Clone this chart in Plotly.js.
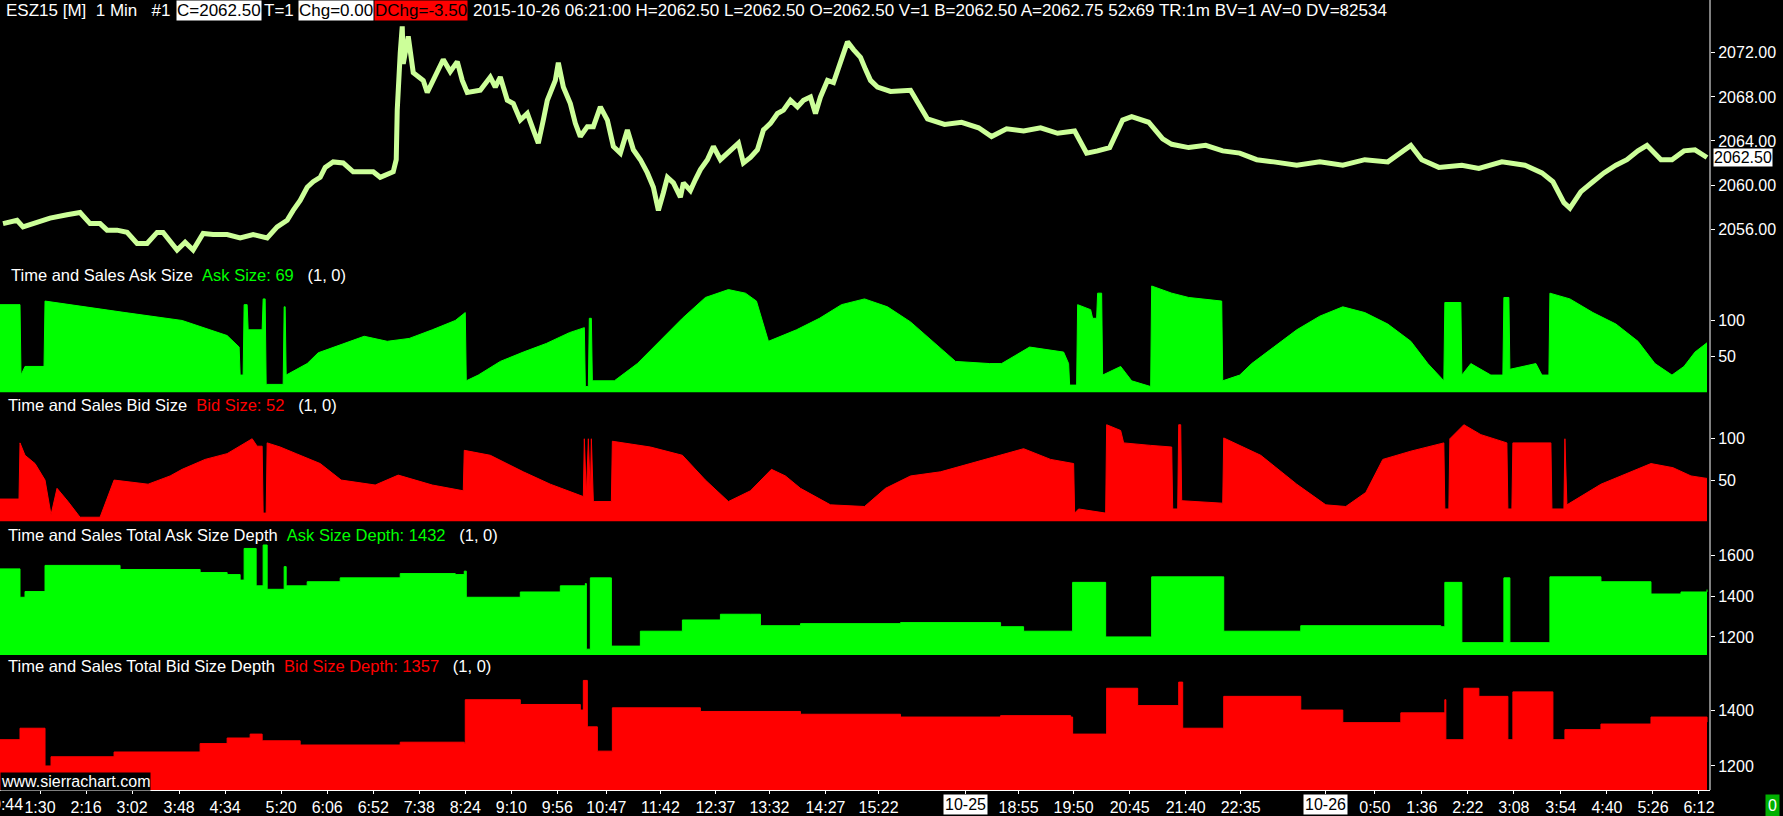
<!DOCTYPE html>
<html><head><meta charset="utf-8">
<script src="https://cdn.plot.ly/plotly-3.0.1.min.js"></script>
<style>html,body{margin:0;padding:0;background:#000;}#chart{width:1783px;height:816px;}</style>
</head><body><div id="chart"></div>
<script>
// ---- x axis (bar index) labels ----
const tickBars = [40,86,132,179,225,281,327,373,419,465,511,557,606,660,715,769,825,878,965,1018,1073,1129,1185,1240,1325,1374,1421,1467,1513,1560,1606,1652,1698];
const tickLabels = ["1:30","2:16","3:02","3:48","4:34","5:20","6:06","6:52","7:38","8:24","9:10","9:56","10:47","11:42","12:37","13:32","14:27","15:22","","18:55","19:50","20:45","21:40","22:35","","0:50","1:36","2:22","3:08","3:54","4:40","5:26","6:12"];
const firstTickBar = 7, firstTickLabel = "0:44";
const dateBars = [965,1325];
const dateLabels = ["10-25","10-26"];

// ---- price (close) ----
const priceBar = [3,17,23,33,50,67,80,90,100,107,117,127,137,147,157,163,177,185,193,203,213,227,240,253,267,277,287,293,300,307,313,320,325,333,343,353,363,373,380,387,393,396,397,400,402,403,408,413,423,427,433,443,450,457,462,467,480,490,495,500,507,513,520,527,533,538,543,547,555,558,563,570,575,580,587,593,600,607,613,620,627,633,640,647,653,658,663,667,673,680,683,690,695,700,707,713,720,727,733,738,743,750,757,763,770,777,783,790,797,803,810,815,820,827,833,840,847,853,860,865,870,877,890,910,927,944,961,978,991,1006,1023,1040,1057,1074,1086,1097,1109,1122,1131,1148,1162,1171,1188,1205,1222,1239,1256,1273,1296,1319,1342,1364,1387,1410,1421,1438,1461,1478,1501,1524,1541,1552,1563,1569,1580,1592,1603,1615,1626,1637,1646,1660,1671,1683,1694,1706];
const priceClose = [2056.5,2056.8,2056.2,2056.5,2057.0,2057.3,2057.5,2056.5,2056.5,2055.9,2055.9,2055.7,2054.7,2054.7,2055.7,2055.7,2054.1,2054.8,2054.1,2055.6,2055.5,2055.5,2055.2,2055.5,2055.2,2056.2,2056.8,2057.7,2058.6,2059.8,2060.3,2060.7,2061.6,2062.1,2062.0,2061.2,2061.2,2061.2,2060.7,2061.0,2061.2,2062.3,2066.8,2072.0,2074.4,2071.0,2073.5,2070.2,2069.5,2068.4,2069.5,2071.4,2070.3,2071.2,2069.5,2068.4,2068.6,2069.8,2068.9,2069.8,2067.7,2067.4,2065.9,2066.5,2065.0,2063.8,2065.9,2067.7,2069.5,2071.1,2068.9,2067.4,2065.6,2064.4,2065.3,2065.3,2067.1,2065.9,2063.5,2062.9,2065.0,2063.2,2062.3,2061.1,2059.8,2057.7,2059.3,2060.7,2060.2,2058.9,2060.2,2059.5,2060.5,2061.4,2062.3,2063.5,2062.3,2062.9,2063.5,2063.8,2062.0,2062.5,2063.2,2065.0,2065.6,2066.5,2066.8,2067.7,2067.1,2067.7,2068.0,2066.5,2068.0,2069.5,2069.3,2071.1,2073.0,2072.3,2071.6,2070.5,2069.5,2068.9,2068.5,2068.6,2066.0,2065.5,2065.7,2065.2,2064.4,2065.1,2064.9,2065.2,2064.7,2064.9,2062.9,2063.1,2063.4,2065.9,2066.2,2065.7,2064.2,2063.7,2063.4,2063.6,2063.1,2062.9,2062.3,2062.1,2061.8,2062.1,2061.8,2062.3,2062.1,2063.6,2062.3,2061.6,2061.8,2061.5,2062.1,2061.8,2061.1,2060.3,2058.4,2057.9,2059.4,2060.3,2061.1,2061.8,2062.3,2063.1,2063.6,2062.3,2062.3,2063.1,2063.2,2062.5];

// ---- Time and Sales Ask Size ----
const askSizeBar = [0,20,21,25,44,45,125,182,227,239,240,243,244,247,248,262,263,265,266,283,284,285,286,307,318,341,364,387,409,432,455,465,466,478,500,523,546,569,584,585,588,589,591,592,614,637,659,682,705,728,745,756,768,796,819,841,864,887,910,932,955,989,1001,1029,1063,1068,1069,1076,1077,1090,1092,1096,1097,1101,1102,1120,1131,1150,1151,1171,1188,1221,1222,1239,1251,1273,1296,1319,1342,1364,1387,1410,1427,1443,1444,1460,1461,1470,1490,1502,1503,1508,1509,1535,1541,1548,1549,1569,1592,1615,1637,1654,1671,1683,1694,1706];
const askSize = [122,122,24,36,36,127,111,100,79,63,24,24,122,122,87,87,130,130,11,11,119,119,24,40,55,67,78,71,75,87,100,111,16,24,43,56,68,83,90,8,8,103,103,16,16,40,71,103,132,143,138,127,71,87,103,122,130,119,98,71,43,40,40,63,56,40,10,10,122,115,103,103,138,138,24,36,16,8,148,138,132,127,16,24,40,63,87,106,119,111,95,71,40,16,125,125,24,40,24,24,132,132,32,40,24,24,138,130,111,95,71,40,24,36,56,69];

// ---- Time and Sales Bid Size ----
const bidSizeBar = [0,19,20,25,35,45,51,57,68,80,100,108,114,148,170,182,205,227,240,252,257,262,263,266,267,280,296,320,341,375,398,420,432,463,464,490,523,550,568,583,584,586,588,590,591,593,611,612,650,682,705,728,750,771,785,800,830,864,885,910,940,970,1000,1023,1050,1073,1074,1078,1105,1106,1120,1123,1150,1171,1172,1177,1178,1180,1181,1222,1223,1260,1296,1325,1345,1365,1382,1410,1443,1444,1448,1449,1463,1480,1506,1507,1511,1512,1550,1551,1563,1564,1566,1580,1600,1620,1650,1672,1690,1706];
const bidSize = [27,27,95,80,70,50,8,40,24,5,5,30,50,45,55,63,75,82,91,100,91,91,10,10,95,90,82,70,50,44,56,48,44,37,86,80,60,45,37,30,100,30,100,30,100,24,24,97,90,80,50,24,37,63,55,40,20,18,40,55,60,70,80,88,75,70,10,15,10,117,110,95,92,90,15,15,117,117,25,22,101,80,45,20,18,35,75,85,95,15,15,100,117,105,95,15,15,95,95,15,15,100,20,30,45,55,70,65,55,52];

// ---- Time and Sales Total Ask Size Depth ----
const askDepthBar = [0,20,25,45,120,200,227,240,244,256,263,267,284,286,307,340,400,455,464,466,520,560,585,586,590,610,611,640,682,720,750,760,800,900,1000,1023,1072,1105,1150,1151,1222,1223,1300,1440,1444,1461,1503,1509,1549,1600,1650,1680,1706];
const askDepth = [1533,1394,1422,1550,1530,1515,1505,1478,1633,1450,1650,1433,1544,1450,1470,1489,1510,1505,1522,1394,1420,1450,1461,1140,1489,1489,1155,1228,1283,1311,1311,1255,1265,1270,1250,1228,1467,1200,1200,1494,1494,1228,1255,1250,1467,1172,1489,1172,1494,1470,1410,1420,1432];

// ---- Time and Sales Total Bid Size Depth ----
const bidDepthBar = [0,20,45,51,114,200,227,250,262,300,400,464,465,520,580,583,587,597,612,700,800,900,1000,1070,1072,1105,1106,1137,1178,1182,1222,1223,1300,1342,1400,1444,1445,1463,1478,1507,1512,1552,1564,1600,1650,1706];
const bidDepth = [1294,1335,1200,1233,1250,1280,1300,1314,1290,1275,1285,1280,1437,1420,1400,1506,1340,1253,1408,1395,1385,1375,1380,1375,1314,1314,1478,1416,1500,1335,1335,1449,1400,1355,1390,1437,1294,1478,1449,1294,1465,1294,1330,1350,1375,1357];

const FONT = '"Liberation Sans",Arial,sans-serif';
const GREEN = '#00ff00', RED = '#ff0000', WHITE = '#ffffff';
const H = 790, W = 1710;

function area(x, y, color, ax, shape) {
  return {type:'scatter', mode:'lines', x:x, y:y, yaxis:ax, xaxis:'x',
    line:{shape:shape, color:color, width:1}, fill:'tozeroy', fillcolor:color, hoverinfo:'skip'};
}
const traces = [
  area(bidDepthBar, bidDepth, RED, 'y', 'hv'),
  area(askDepthBar, askDepth, GREEN, 'y2', 'hv'),
  area(bidSizeBar, bidSize, RED, 'y3', 'linear'),
  area(askSizeBar, askSize, GREEN, 'y4', 'linear'),
  {type:'scatter', mode:'lines', x:priceBar, y:priceClose, yaxis:'y5', xaxis:'x',
   line:{color:'#ccff99', width:5}, hoverinfo:'skip'}
];

function yax(domain, range, tv, fmt) {
  return {domain:domain, range:range, side:'right', anchor:'x', showgrid:false, zeroline:false,
    showline:false, ticks:'outside', ticklen:4, tickcolor:WHITE, tickvals:tv, tickformat:fmt||'',
    tickfont:{family:FONT, size:16, color:WHITE}, fixedrange:true};
}
function py(p){ return 1 - p / H; }
function px(p){ return p / W; }

const annFont = (c, s) => ({family:FONT, size:s||16.5, color:c});
const annotations = [
  {xref:'paper', yref:'paper', x:px(4), y:py(11), xanchor:'left', yanchor:'middle', showarrow:false,
   text:'ESZ15 [M]&nbsp;&nbsp;1 Min&nbsp;&nbsp;&nbsp;#1', font:annFont(WHITE, 17)},
  {xref:'paper', yref:'paper', x:px(176), y:py(11), xanchor:'left', yanchor:'middle', showarrow:false,
   text:'C=2062.50', font:annFont('#000', 17), bgcolor:WHITE, borderpad:0},
  {xref:'paper', yref:'paper', x:px(262), y:py(11), xanchor:'left', yanchor:'middle', showarrow:false,
   text:'T=1', font:annFont(WHITE, 17)},
  {xref:'paper', yref:'paper', x:px(298), y:py(11), xanchor:'left', yanchor:'middle', showarrow:false,
   text:'Chg=0.00', font:annFont('#000', 17), bgcolor:WHITE, borderpad:0},
  {xref:'paper', yref:'paper', x:px(374), y:py(11), xanchor:'left', yanchor:'middle', showarrow:false,
   text:'DChg=-3.50', font:annFont('#000', 17), bgcolor:RED, borderpad:0},
  {xref:'paper', yref:'paper', x:px(471), y:py(11), xanchor:'left', yanchor:'middle', showarrow:false,
   text:'2015-10-26 06:21:00 H=2062.50 L=2062.50 O=2062.50 V=1 B=2062.50 A=2062.75 52x69 TR:1m BV=1 AV=0 DV=82534', font:annFont(WHITE, 17)},
  {xref:'paper', yref:'paper', x:px(9), y:py(275), xanchor:'left', yanchor:'middle', showarrow:false,
   text:'Time and Sales Ask Size&nbsp;&nbsp;<span style="color:#00ff00">Ask Size: 69</span>&nbsp;&nbsp;&nbsp;(1, 0)', font:annFont(WHITE)},
  {xref:'paper', yref:'paper', x:px(6), y:py(405), xanchor:'left', yanchor:'middle', showarrow:false,
   text:'Time and Sales Bid Size&nbsp;&nbsp;<span style="color:#ff0000">Bid Size: 52</span>&nbsp;&nbsp;&nbsp;(1, 0)', font:annFont(WHITE)},
  {xref:'paper', yref:'paper', x:px(6), y:py(535), xanchor:'left', yanchor:'middle', showarrow:false,
   text:'Time and Sales Total Ask Size Depth&nbsp;&nbsp;<span style="color:#00ff00">Ask Size Depth: 1432</span>&nbsp;&nbsp;&nbsp;(1, 0)', font:annFont(WHITE)},
  {xref:'paper', yref:'paper', x:px(6), y:py(666), xanchor:'left', yanchor:'middle', showarrow:false,
   text:'Time and Sales Total Bid Size Depth&nbsp;&nbsp;<span style="color:#ff0000">Bid Size Depth: 1357</span>&nbsp;&nbsp;&nbsp;(1, 0)', font:annFont(WHITE)},
  {xref:'paper', yref:'y5', x:1, xshift:3, y:priceClose[priceClose.length-1], xanchor:'left', yanchor:'middle', showarrow:false,
   text:'2062.50', font:annFont('#000', 16), bgcolor:WHITE, borderpad:0},
  {xref:'paper', yref:'paper', x:0, y:py(781), xanchor:'left', yanchor:'middle', showarrow:false,
   text:'www.sierrachart.com', font:annFont(WHITE, 16), bgcolor:'#000', borderpad:0},
  {xref:'paper', yref:'paper', x:px(1773), y:py(805), xanchor:'center', yanchor:'middle', showarrow:false,
   text:'0', font:annFont(WHITE, 16), bgcolor:'#00b000', borderpad:2},
  {xref:'x', yref:'paper', x:firstTickBar, y:py(804), xanchor:'center', yanchor:'middle', showarrow:false,
   text:firstTickLabel, font:annFont(WHITE, 16)}
];
dateBars.forEach((b, i) => annotations.push({xref:'x', yref:'paper', x:b, y:py(804), xanchor:'center', yanchor:'middle',
  showarrow:false, text:dateLabels[i], font:annFont('#000', 16), bgcolor:WHITE, borderpad:1}));

const layout = {
  width:1783, height:816, margin:{l:0, r:73, t:0, b:26},
  paper_bgcolor:'#000', plot_bgcolor:'#000', showlegend:false,
  xaxis:{range:[0,1709], anchor:'y', showgrid:false, zeroline:false, showline:true, linecolor:WHITE, linewidth:1,
    ticks:'outside', ticklen:3, tickcolor:WHITE, tickvals:tickBars, ticktext:tickLabels,
    tickfont:{family:FONT, size:16, color:WHITE}, tickangle:0, fixedrange:true},
  yaxis: yax([0, 0.167], [1114, 1586], [1200, 1400]),
  yaxis2: yax([0.171, 0.335], [1112, 1746], [1200, 1400, 1600]),
  yaxis3: yax([0.339, 0.5], [-1, 153], [50, 100]),
  yaxis4: yax([0.5025, 0.668], [-1, 181], [50, 100]),
  yaxis5: yax([0.671, 1], [2053.2, 2076.8], [2056, 2060, 2064, 2068, 2072], '.2f'),
  shapes:[{type:'line', xref:'paper', yref:'paper', x0:1, x1:1, y0:0, y1:1, line:{color:WHITE, width:1}}],
  annotations: annotations
};
Plotly.newPlot('chart', traces, layout, {staticPlot:true, displayModeBar:false});
</script></body></html>
